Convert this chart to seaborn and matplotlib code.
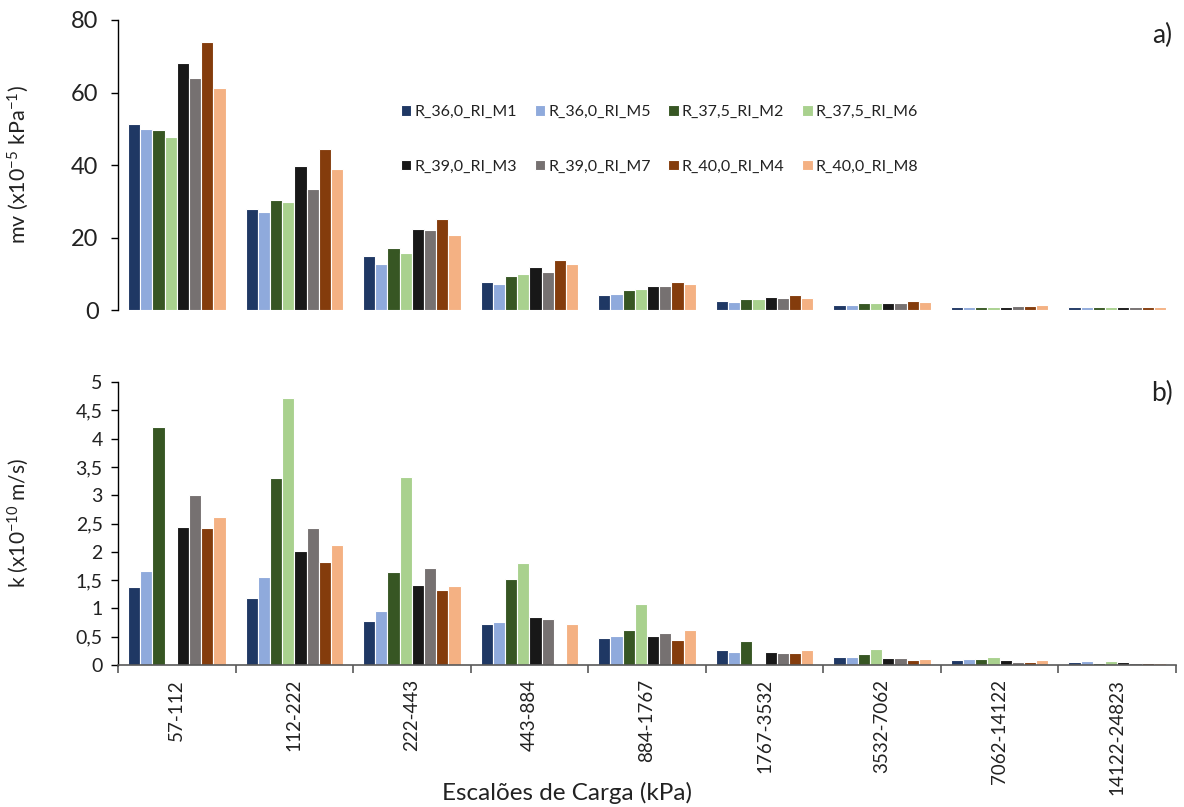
import numpy as np
import pandas as pd
import matplotlib
matplotlib.use("Agg")
import matplotlib.pyplot as plt
from matplotlib.ticker import FuncFormatter, FixedLocator
import seaborn as sns

# Load steps (kPa)
stages = ["57-112", "112-222", "222-443", "443-884", "884-1767",
          "1767-3532", "3532-7062", "7062-14122", "14122-24823"]

series = ["R_36,0_RI_M1", "R_36,0_RI_M5", "R_37,5_RI_M2", "R_37,5_RI_M6",
          "R_39,0_RI_M3", "R_39,0_RI_M7", "R_40,0_RI_M4", "R_40,0_RI_M8"]

colors = ["#1F3864", "#8FAADC", "#375623", "#A9D18E",
          "#181818", "#767171", "#843C0C", "#F4B183"]

# Coefficient of volume compressibility mv (x10^-5 kPa^-1), one list per series
mv_M1 = [51.2, 27.9, 14.8, 7.6, 4.2, 2.4, 1.5, 0.8, 0.7]
mv_M5 = [50.0, 26.9, 12.8, 7.1, 4.3, 2.2, 1.4, 0.95, 0.7]
mv_M2 = [49.7, 30.4, 17.2, 9.4, 5.5, 2.9, 1.9, 0.95, 0.75]
mv_M6 = [47.7, 29.7, 15.8, 9.9, 5.9, 3.1, 1.95, 0.95, 0.75]
mv_M3 = [68.2, 39.7, 22.3, 11.8, 6.5, 3.5, 1.95, 0.95, 0.75]
mv_M7 = [63.9, 33.4, 22.1, 10.6, 6.6, 3.3, 2.0, 1.1, 0.75]
mv_M4 = [73.9, 44.3, 25.2, 13.7, 7.6, 4.1, 2.5, 1.2, 0.95]
mv_M8 = [61.2, 39.0, 20.8, 12.7, 7.2, 3.3, 2.2, 1.3, 0.8]

# Hydraulic conductivity k (x10^-10 m/s); NaN where no value was obtained
k_M1 = [1.38, 1.19, 0.78, 0.72, 0.47, 0.26, 0.15, 0.08, 0.06]
k_M5 = [1.66, 1.55, 0.95, 0.76, 0.51, 0.23, 0.14, 0.11, 0.065]
k_M2 = [4.21, 3.31, 1.64, 1.52, 0.61, 0.42, 0.19, 0.10, 0.04]
k_M6 = [np.nan, 4.72, 3.32, 1.81, 1.08, np.nan, 0.28, 0.15, 0.07]
k_M3 = [2.43, 2.01, 1.41, 0.85, 0.52, 0.23, 0.12, 0.09, 0.05]
k_M7 = [3.01, 2.42, 1.71, 0.82, 0.56, 0.21, 0.12, 0.06, 0.03]
k_M4 = [2.42, 1.82, 1.32, np.nan, 0.45, 0.21, 0.09, 0.05, 0.03]
k_M8 = [2.61, 2.12, 1.39, 0.73, 0.62, 0.26, 0.10, 0.08, 0.03]

mv_all = [mv_M1, mv_M5, mv_M2, mv_M6, mv_M3, mv_M7, mv_M4, mv_M8]
k_all = [k_M1, k_M5, k_M2, k_M6, k_M3, k_M7, k_M4, k_M8]


def long_form(values):
    rows = []
    for name, vals in zip(series, values):
        for st, v in zip(stages, vals):
            rows.append({"stage": st, "series": name, "value": v})
    return pd.DataFrame(rows)


df_mv = long_form(mv_all)
df_k = long_form(k_all)

sns.set_theme(style="white")
plt.rcParams["font.family"] = ["Lato", "DejaVu Sans"]
plt.rcParams["mathtext.default"] = "regular"
plt.rcParams["axes.unicode_minus"] = False

TXT = "#222222"

fig = plt.figure(figsize=(11.84, 8.07), dpi=100)
W, H = 1184, 807
L, R = 118, 1176
ax1 = fig.add_axes([L / W, 1 - 310 / H, (R - L) / W, 290 / H])
ax2 = fig.add_axes([L / W, 1 - 665 / H, (R - L) / W, 283 / H])

palette = dict(zip(series, colors))
bar_kw = dict(x="stage", y="value", hue="series", order=stages, hue_order=series,
              palette=palette, width=0.83, edgecolor="white", linewidth=0.8,
              saturation=1, errorbar=None)

sns.barplot(data=df_mv, ax=ax1, legend=True, **bar_kw)
sns.barplot(data=df_k, ax=ax2, legend=False, **bar_kw)

for ax in (ax1, ax2):
    ax.set_xlim(-0.5, len(stages) - 0.5)
    for side in ("top", "right"):
        ax.spines[side].set_visible(False)
    ax.spines["left"].set_color("#000000")
    ax.spines["left"].set_linewidth(1.0)
    ax.tick_params(axis="y", which="major", direction="out", length=5,
                   width=1.0, color="black", left=True, labelcolor=TXT)
    ax.set_xlabel("")

# Upper panel: no category axis line
ax1.spines["bottom"].set_visible(False)
ax1.set_ylim(0, 80)
ax1.set_yticks([0, 20, 40, 60, 80])
ax1.tick_params(axis="y", labelsize=17, pad=9)
ax1.set_xticks([])
ax1.set_ylabel("mv (x10$^{-5}$ kPa$^{-1}$)", fontsize=15.5, color=TXT)
ax1.yaxis.set_label_coords(-0.082, 0.5)

# Lower panel
ax2.set_ylim(0, 5)
ax2.set_yticks(np.arange(0, 5.01, 0.5))
ax2.tick_params(axis="y", labelsize=14, pad=6)
ax2.yaxis.set_major_formatter(FuncFormatter(lambda v, p: f"{v:g}".replace(".", ",")))
ax2.spines["bottom"].set_color("#595959")
ax2.spines["bottom"].set_linewidth(1.2)
ax2.set_xticks(range(len(stages)))
ax2.set_xticklabels(stages, rotation=90, fontsize=13.5, color=TXT)
ax2.tick_params(axis="x", which="major", length=0, pad=10)
ax2.xaxis.set_minor_locator(FixedLocator(np.arange(-0.5, len(stages), 1.0)))
ax2.tick_params(axis="x", which="minor", direction="out", length=6, width=1.2,
                color="#595959", bottom=True)
ax2.set_ylabel("k (x10$^{-10}$ m/s)", fontsize=15, color=TXT)
ax2.yaxis.set_label_coords(-0.082, 0.5)

# Legend in two rows of four, filled row by row
handles, labels = ax1.get_legend_handles_labels()
order = [0, 4, 1, 5, 2, 6, 3, 7]
ax1.legend([handles[i] for i in order], [labels[i] for i in order], ncol=4,
           frameon=False, loc="upper left",
           bbox_to_anchor=(401 / W, 1 - 105 / H), bbox_transform=fig.transFigure,
           fontsize=11.5, handlelength=0.65, handleheight=0.65, handletextpad=0.2,
           columnspacing=1.1, labelspacing=2.55, borderpad=0, borderaxespad=0,
           labelcolor=TXT)

fig.text(1162 / W, 1 - 35 / H, "a)", fontsize=19, ha="center", va="center", color=TXT)
fig.text(1162 / W, 1 - 393 / H, "b)", fontsize=19, ha="center", va="center", color=TXT)
fig.text(567 / W, 1 - 793 / H, "Escalões de Carga (kPa)", fontsize=17.5,
         ha="center", va="center", color=TXT)

fig.savefig("out.png", dpi=100, facecolor="white")
